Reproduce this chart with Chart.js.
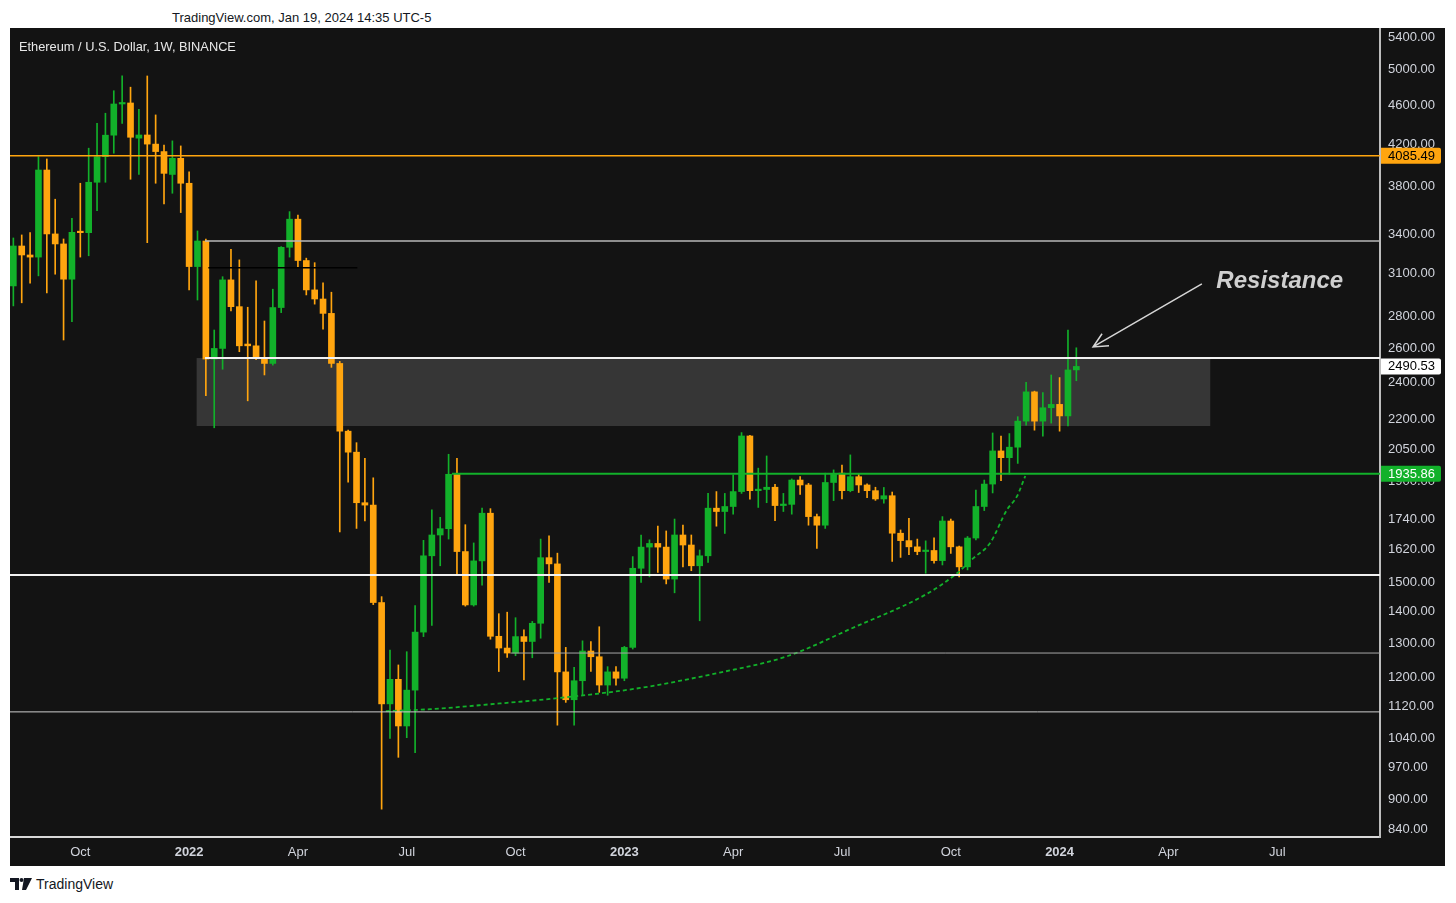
<!DOCTYPE html>
<html>
<head>
<meta charset="utf-8">
<script src="https://cdn.jsdelivr.net/npm/chart.js@4.4.1/dist/chart.umd.min.js"></script>
<style>
  body { margin: 0; background: #fff; width: 1456px; height: 903px; overflow: hidden; font-family: "Liberation Sans", Arial, sans-serif; }
  #stamp { position: absolute; left: 172px; top: 10px; font-size: 13px; color: #131722; }
  #wrap { position: absolute; left: 10px; top: 28px; width: 1435px; height: 838px; background: #131313; }
  #title { position: absolute; left: 9px; top: 11px; font-size: 12.8px; color: #e8e8e8; pointer-events: none; }
  #logo { position: absolute; left: 10px; top: 876px; font-size: 14px; color: #131722; display: flex; align-items: center; gap: 4px; }
</style>
</head>
<body>
<div id="stamp">TradingView.com, Jan 19, 2024 14:35 UTC-5</div>
<div id="wrap">
  <canvas id="ethChart"></canvas>
  <div id="title">Ethereum / U.S. Dollar, 1W, BINANCE</div>
</div>
<div id="logo">
  <svg width="22" height="12" viewBox="0 0 22 12"><path d="M0 0h9v12H5V4H0z M14 0h8l-6 12h-4z" fill="#131722"/><circle cx="11.5" cy="2" r="2" fill="#131722"/></svg>
  <span>TradingView</span>
</div>
<script>
// weekly candles, index 0 = week of 2021-08-09
var opens = [3009,3305,3236,3220,3951,3400,3321,3057,3420,3410,3839,4077,4288,4614,4625,4258,4290,4199,4126,3910,
  4061,3830,3149,3344,2534,2598,3052,2866,2625,2614,2541,2508,2860,3295,3520,3194,2981,2918,2821,2508,
  2139,2036,1808,1798,1430,1127,1194,1070,1164,1334,1596,1676,1701,1933,1612,1422,1577,1764,1321,1285,
  1270,1320,1305,1362,1589,1566,1215,1138,1190,1276,1259,1178,1215,1197,1287,1550,1629,1643,1629,1511,
  1676,1637,1559,1596,1785,1771,1792,1856,2115,1860,1865,1875,1796,1801,1907,1885,1750,1715,1896,1938,
  1860,1922,1885,1860,1824,1838,1683,1654,1630,1612,1616,1578,1732,1630,1555,1664,1792,1889,2042,2010,
  2060,2190,2346,2190,2260,2278,2217,2470];
var highs = [3368,3392,3410,4077,4055,3689,3360,3528,3830,4159,4409,4515,4760,4930,4800,4557,4928,4497,4190,4231,
  4181,3935,3424,3360,2713,3075,3280,3199,2862,3045,2771,2986,3300,3583,3555,3212,3178,3031,2965,2520,
  2145,2082,2007,1917,1450,1279,1235,1274,1420,1655,1778,1747,2026,2007,1717,1645,1785,1783,1393,1398,
  1380,1341,1368,1660,1673,1606,1287,1228,1307,1305,1351,1230,1230,1290,1593,1676,1657,1711,1692,1740,
  1715,1676,1618,1848,1856,1848,1930,2132,2118,1961,2018,1888,1848,1912,1922,1892,1760,1938,1953,1975,
  2023,1935,1890,1875,1874,1854,1696,1743,1660,1653,1665,1750,1740,1633,1670,1863,1907,2130,2114,2127,
  2213,2399,2350,2342,2441,2426,2713,2602];
var lows = [2871,2892,3029,3081,2960,3093,2650,2767,3220,3230,3591,3839,4110,4409,3866,3910,3331,3830,3648,3741,
  3575,2981,2911,2325,2156,2474,2838,2578,2297,2530,2441,2498,2826,3220,3144,2946,2883,2718,2485,1688,
  1897,1702,1732,1423,880,1039,994,1041,1005,1320,1355,1559,1660,1526,1418,1418,1490,1312,1216,1257,
  1262,1192,1256,1315,1499,1072,1131,1072,1151,1216,1158,1150,1178,1190,1282,1499,1519,1535,1494,1463,
  1555,1541,1370,1571,1711,1682,1760,1848,1823,1788,1808,1733,1771,1760,1844,1715,1624,1702,1817,1824,
  1855,1852,1830,1818,1806,1575,1590,1600,1600,1532,1569,1562,1605,1519,1544,1657,1775,1850,1904,1934,
  1983,2170,2144,2114,2180,2139,2165,2408];
var closes = [3305,3236,3220,3951,3400,3321,3057,3413,3410,3839,4077,4288,4614,4625,4267,4290,4199,4126,3920,4061,
  3830,3149,3344,2534,2598,3052,2866,2614,2614,2541,2508,2860,3295,3520,3194,2981,2918,2821,2508,2139,
  2036,1808,1798,1430,1127,1194,1070,1164,1334,1596,1676,1701,1933,1612,1422,1577,1764,1321,1285,1270,
  1320,1305,1362,1589,1566,1215,1138,1190,1276,1259,1178,1215,1197,1287,1550,1629,1643,1629,1511,1676,
  1637,1559,1596,1785,1771,1792,1856,2115,1860,1865,1875,1796,1801,1907,1885,1750,1715,1896,1935,1860,
  1922,1885,1860,1824,1838,1683,1654,1630,1612,1616,1578,1732,1630,1555,1664,1792,1889,2042,2010,2060,
  2190,2346,2190,2260,2278,2217,2470,2490.53];

// axis ticks
var quarterTicks = [8, 21, 34, 47, 60, 73, 86, 99, 112, 125, 138, 151];
var quarterLabels = ['Oct', '2022', 'Apr', 'Jul', 'Oct', '2023', 'Apr', 'Jul', 'Oct', '2024', 'Apr', 'Jul'];
var priceTicks = [840, 900, 970, 1040, 1120, 1200, 1300, 1400, 1500, 1620, 1740, 1900, 2050, 2200, 2400, 2600, 2800, 3100, 3400, 3800, 4200, 4600, 5000, 5400];

// drawn levels (price, start week, end week; null = chart edge)
var levelPrices = [4085.49, 3344, 3140, 2540, 1935.86, 1526, 1270, 1106];
var levelFrom = [null, 22.9, 23.3, 22.9, 52.4, null, 59.4, null];
var levelTo = [null, null, 41.1, null, null, null, null, null];

// grey zone
var zoneWeeks = [21.9, 143];
var zonePrices = [2165, 2540];

// dashed support curve
var curveWeeks = [44.5, 49.8, 57, 65.3, 74.9, 84.4, 92.4, 100, 109.3, 112.7, 114.7, 116.7, 118.7, 119.9, 120.9];
var curvePrices = [1108, 1113, 1126, 1143, 1170, 1213, 1260, 1344, 1462, 1531, 1587, 1645, 1778, 1835, 1925];

// arrow + text
var arrowTail = [142.0, 3024];
var arrowTip = [129.0, 2607];
var noteAt = [151.3, 3040];
var noteText = 'Resistance';

// price tags on the axis
var tagPrices = [4085.49, 2490.53, 1935.86];

var GREEN = '#12b12a';
var ORANGE = '#ffa50f';
var FONT = '"Liberation Sans", Arial, sans-serif';
var X_MIN = -0.4, X_MAX = 163.28;

var levelStyle = [
  { c: ORANGE, w: 1.5 }, { c: '#b8b8b8', w: 1.5 }, { c: '#000000', w: 1.5 }, { c: '#f2f2f2', w: 2 },
  { c: GREEN, w: 2 }, { c: '#f2f2f2', w: 2 }, { c: '#a8a8a8', w: 1 }, { c: '#cfcfcf', w: 1 }
];
var tagStyle = [
  { bg: ORANGE, fg: '#000' }, { bg: '#ffffff', fg: '#000' }, { bg: GREEN, fg: '#fff' }
];

var idx = opens.map(function (v, i) { return i; });
var candleColors = idx.map(function (i) { return closes[i] >= opens[i] ? GREEN : ORANGE; });

var datasets = [];
levelPrices.forEach(function (p, i) {
  datasets.push({
    type: 'line',
    data: [{ x: levelFrom[i] === null ? X_MIN : levelFrom[i], y: p }, { x: levelTo[i] === null ? X_MAX : levelTo[i], y: p }],
    borderColor: levelStyle[i].c,
    borderWidth: levelStyle[i].w,
    pointRadius: 0,
    order: 0
  });
});
datasets.push({
  type: 'line',
  data: curveWeeks.map(function (w, i) { return { x: w, y: curvePrices[i] }; }),
  borderColor: GREEN,
  borderWidth: 1.8,
  borderDash: [4, 3],
  cubicInterpolationMode: 'monotone',
  pointRadius: 0,
  order: 0
});
datasets.push({
  type: 'bar',
  data: idx.map(function (i) { return { x: i, y: [opens[i], closes[i]] }; }),
  backgroundColor: candleColors,
  barThickness: 6,
  minBarLength: 1.5,
  grouped: false,
  order: 1
});
datasets.push({
  type: 'bar',
  data: idx.map(function (i) { return { x: i, y: [lows[i], highs[i]] }; }),
  backgroundColor: candleColors,
  barThickness: 1,
  grouped: false,
  order: 2
});

var overlay = {
  id: 'overlay',
  beforeDatasetsDraw: function (chart) {
    var ctx = chart.ctx, a = chart.chartArea, x = chart.scales.x, y = chart.scales.y;
    ctx.save();
    ctx.beginPath();
    ctx.rect(a.left, a.top, a.right - a.left, a.bottom - a.top);
    ctx.clip();
    var x0 = x.getPixelForValue(zoneWeeks[0]), x1 = x.getPixelForValue(zoneWeeks[1]);
    var y0 = y.getPixelForValue(zonePrices[1]), y1 = y.getPixelForValue(zonePrices[0]);
    ctx.fillStyle = 'rgba(255,255,255,0.15)';
    ctx.fillRect(x0, y0, x1 - x0, y1 - y0);
    ctx.restore();
  },
  afterDatasetsDraw: function (chart) {
    var ctx = chart.ctx, x = chart.scales.x, y = chart.scales.y;
    var tx = x.getPixelForValue(arrowTail[0]), ty = y.getPixelForValue(arrowTail[1]);
    var hx = x.getPixelForValue(arrowTip[0]), hy = y.getPixelForValue(arrowTip[1]);
    var ang = Math.atan2(ty - hy, tx - hx);
    ctx.save();
    ctx.strokeStyle = '#d6d6d6';
    ctx.lineWidth = 1.5;
    ctx.beginPath();
    ctx.moveTo(tx, ty);
    ctx.lineTo(hx, hy);
    ctx.moveTo(hx + 16 * Math.cos(ang - 0.45), hy + 16 * Math.sin(ang - 0.45));
    ctx.lineTo(hx, hy);
    ctx.lineTo(hx + 16 * Math.cos(ang + 0.45), hy + 16 * Math.sin(ang + 0.45));
    ctx.stroke();
    ctx.fillStyle = '#cfcfcf';
    ctx.font = 'italic bold 24px ' + FONT;
    ctx.textAlign = 'center';
    ctx.textBaseline = 'middle';
    ctx.fillText(noteText, x.getPixelForValue(noteAt[0]), y.getPixelForValue(noteAt[1]));
    ctx.restore();
  },
  afterDraw: function (chart) {
    var ctx = chart.ctx, y = chart.scales.y;
    ctx.save();
    ctx.font = '13px ' + FONT;
    ctx.textBaseline = 'middle';
    tagPrices.forEach(function (p, i) {
      var py = y.getPixelForValue(p);
      ctx.fillStyle = tagStyle[i].bg;
      ctx.beginPath();
      ctx.roundRect(y.left + 1, py - 8, 60, 16, [0, 2, 2, 0]);
      ctx.fill();
      ctx.fillStyle = tagStyle[i].fg;
      ctx.fillText(p.toFixed(2), y.left + 8, py + 0.5);
    });
    ctx.restore();
  }
};

function noPad(s) {
  s.paddingTop = 0; s.paddingBottom = 0; s.paddingLeft = 0; s.paddingRight = 0;
}

new Chart(document.getElementById('ethChart'), {
  type: 'bar',
  data: { datasets: datasets },
  options: {
    responsive: true,
    maintainAspectRatio: false,
    animation: false,
    layout: { padding: 0 },
    plugins: { legend: { display: false }, tooltip: { enabled: false } },
    scales: {
      x: {
        type: 'linear',
        min: X_MIN,
        max: X_MAX,
        offset: false,
        grid: { display: false, drawTicks: false },
        border: { display: true, color: '#d8d8d8', width: 2 },
        afterBuildTicks: function (s) { s.ticks = quarterTicks.map(function (v) { return { value: v }; }); },
        afterFit: function (s) { s.height = 29; noPad(s); },
        ticks: {
          autoSkip: false,
          maxRotation: 0,
          padding: 8,
          color: '#d1d4dc',
          font: function (c) {
            var k = c.tick ? quarterTicks.indexOf(c.tick.value) : -1;
            var yr = k >= 0 && quarterLabels[k].indexOf('20') === 0;
            return { size: 13, family: FONT, weight: yr ? 'bold' : 'normal' };
          },
          callback: function (v) { var k = quarterTicks.indexOf(v); return k >= 0 ? quarterLabels[k] : ''; }
        }
      },
      y: {
        type: 'logarithmic',
        position: 'right',
        min: 824.3,
        max: 5516,
        grid: { display: false, drawTicks: false },
        border: { display: true, color: '#bdbdbd', width: 2 },
        afterBuildTicks: function (s) { s.ticks = priceTicks.map(function (v) { return { value: v }; }); },
        afterFit: function (s) { s.width = 65; noPad(s); },
        ticks: {
          padding: 8,
          color: '#d1d4dc',
          font: { size: 13, family: FONT },
          callback: function (v) { return Number(v).toFixed(2); }
        }
      }
    }
  },
  plugins: [overlay]
});
</script>
</body>
</html>
